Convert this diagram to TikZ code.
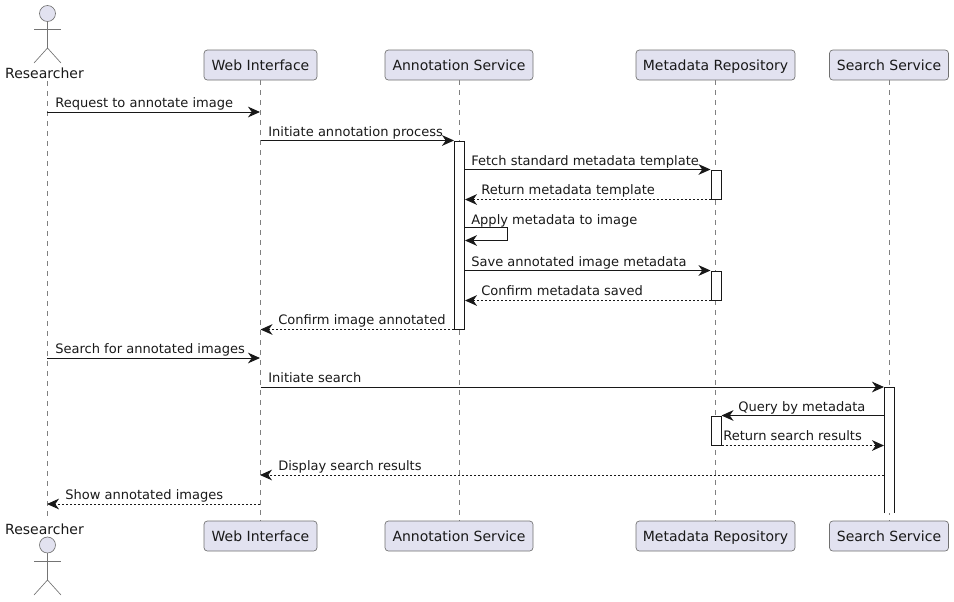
\documentclass[tikz,border=0pt]{standalone}
\usepackage{fontspec}
\setmainfont{DejaVu Sans}
\usepackage{tikz}
\usetikzlibrary{calc}
\usetikzlibrary{arrows.meta,backgrounds}
\definecolor{boxfill}{HTML}{E2E2F0}
\definecolor{inkline}{HTML}{181818}
\tikzset{
  party/.style={draw=inkline!62, line width=0.5pt, fill=boxfill, rounded corners=2.5pt, minimum height=22.5pt, inner xsep=0pt, text height=9pt, text depth=1.5pt, font=\fontsize{10.5}{12}\selectfont, text=black!90},
  actorname/.style={font=\fontsize{10.5}{12}\selectfont, text=black!90, inner sep=0pt},
  actorline/.style={draw=inkline!60, line width=0.5pt},
  lifeline/.style={draw=inkline!55, line width=0.5pt, dash pattern=on 3.75pt off 3.75pt},
  bar/.style={draw=inkline, line width=0.75pt, fill=white, minimum width=7.5pt, inner sep=0pt},
  msg/.style={draw=inkline, line width=0.75pt, -{Stealth[length=9pt,width=8pt,inset=2.8pt]}},
  reply/.style={msg, dash pattern=on 1.5pt off 1.5pt},
  lbl/.style={font=\fontsize{9.78}{12}\selectfont, text=black!90, inner sep=0pt, anchor=base west},
}

\begin{document}
\begin{tikzpicture}[x=0.75pt, y=-0.75pt]
\useasboundingbox (0, 0) rectangle (954, 601);

% PARTICIPANTS
\node[actorname] (resTop) at (44.5, 73) {Researcher};
\node[actorname] (resBot) at (44.5, 529) {Researcher};
\node[party, minimum width=84.75pt] (webTop) at (260.5, 65) {Web Interface};
\node[party, minimum width=84.75pt] (webBot) at (260.5, 536) {Web Interface};
\node[party, minimum width=111pt] (annTop) at (459, 65) {Annotation Service};
\node[party, minimum width=111pt] (annBot) at (459, 536) {Annotation Service};
\node[party, minimum width=119.25pt] (repTop) at (715.5, 65) {Metadata Repository};
\node[party, minimum width=119.25pt] (repBot) at (715.5, 536) {Metadata Repository};
\node[party, minimum width=89.25pt] (seaTop) at (889, 65) {Search Service};
\node[party, minimum width=89.25pt] (seaBot) at (889, 536) {Search Service};

% lifelines
\coordinate (resA) at (47, 81);
\coordinate (resB) at (47, 520);
\begin{pgfonlayer}{background}
\draw[lifeline] (resA) -- (resB);
\draw[lifeline] (webTop) -- (webBot);
\draw[lifeline] (annTop) -- (annBot);
\draw[lifeline] (repTop) -- (repBot);
\draw[lifeline] (seaTop) -- (seaBot);
\end{pgfonlayer}

% ACTOR TOP
\draw[actorline, fill=boxfill] (47.5, 13.5) circle (6pt);
\draw[actorline] (47.5, 21.5) -- (47.5, 48);
\draw[actorline] (34, 29) -- (61, 29);
\draw[actorline] (34, 63) -- (47.5, 48) -- (61, 63);

% ACTOR BOTTOM
\draw[actorline, fill=boxfill] (47.5, 545) circle (6pt);
\draw[actorline] (47.5, 553) -- (47.5, 580);
\draw[actorline] (34, 561) -- (61, 561);
\draw[actorline] (34, 595) -- (47.5, 580) -- (61, 595);

% ACTIVATION BARS
\node[bar, minimum height=141pt] (annBar) at (459.5, 235) {};
\node[bar, minimum height=21.75pt] (repBarA) at (716, 184.5) {};
\node[bar, minimum height=21.75pt] (repBarB) at (716, 285.5) {};
\node[bar, minimum height=21.75pt] (repBarC) at (716, 430.5) {};
% open at the bottom
\coordinate (seaBarNW) at (884, 387);
\coordinate (seaBarNE) at (894, 387);
\coordinate (seaBarSW) at (884, 513);
\coordinate (seaBarSE) at (894, 513);
\fill[white] (seaBarNW) rectangle (seaBarSE);
\draw[inkline, line width=0.75pt] (seaBarSW) -- (seaBarNW) -- (seaBarNE) -- (seaBarSE);

% MESSAGES
% request
\coordinate (resM1) at (47, 112);
\coordinate (webM1) at (260, 112);
\draw[msg] (resM1) -- (webM1);
\node[lbl] (lblM1) at (55, 107) {Request to annotate image};
% initiate annotation
\coordinate (webM2) at (webTop |- annBar.north west);
\draw[msg] (webM2) -- (annBar.north west);
\node[lbl] (lblM2) at (268, 136) {Initiate annotation process};
% fetch
\coordinate (annM3) at (annBar.north east |- repBarA.north west);
\draw[msg] (annM3) -- (repBarA.north west);
\node[lbl] (lblM3) at (471, 165.5) {Fetch standard metadata template};
% return template
\coordinate (annM4) at (annBar.north east |- repBarA.south west);
\draw[reply] (repBarA.south west) -- (annM4);
\node[lbl] (lblM4) at (481, 194.5) {Return metadata template};
% self message
\coordinate (annM5a) at ($(annBar.north east) + (0, 87)$);
\coordinate (annM5b) at ($(annM5a) + (42, 0)$);
\coordinate (annM5c) at ($(annM5b) + (0, 13)$);
\coordinate (annM5d) at ($(annM5a) + (0, 13)$);
\draw[msg] (annM5a) -- (annM5b) -- (annM5c) -- (annM5d);
\node[lbl] (lblM5) at (471, 224) {Apply metadata to image};
% save
\coordinate (annM6) at (annBar.north east |- repBarB.north west);
\draw[msg] (annM6) -- (repBarB.north west);
\node[lbl] (lblM6) at (471, 266) {Save annotated image metadata};
% confirm saved
\coordinate (annM7) at (annBar.north east |- repBarB.south west);
\draw[reply] (repBarB.south west) -- (annM7);
\node[lbl] (lblM7) at (481, 295) {Confirm metadata saved};
% confirm annotated
\coordinate (webM8) at (webTop |- annBar.south west);
\draw[reply] (annBar.south west) -- (webM8);
\node[lbl] (lblM8) at (278, 324) {Confirm image annotated};
% search
\coordinate (resM9) at (47, 358);
\coordinate (webM9) at (260, 358);
\draw[msg] (resM9) -- (webM9);
\node[lbl] (lblM9) at (55, 353) {Search for annotated images};
% initiate search
\coordinate (webM10) at (webTop |- seaBarNW);
\draw[msg] (webM10) -- (seaBarNW);
\node[lbl] (lblM10) at (268, 382.5) {Initiate search};
% query
\coordinate (seaM11) at (seaBarNW |- repBarC.north east);
\draw[msg] (seaM11) -- (repBarC.north east);
\node[lbl] (lblM11) at (738, 411.5) {Query by metadata};
% results
\coordinate (seaM12) at (seaBarNW |- repBarC.south east);
\draw[reply] (repBarC.south east) -- (seaM12);
\node[lbl] (lblM12) at (723, 440.5) {Return search results};
% display
\coordinate (seaM13) at (884, 475);
\coordinate (webM13) at (260, 475);
\draw[reply] (seaM13) -- (webM13);
\node[lbl] (lblM13) at (278, 470) {Display search results};
% show
\coordinate (webM14) at (260, 504);
\coordinate (resM14) at (47, 504);
\draw[reply] (webM14) -- (resM14);
\node[lbl] (lblM14) at (65, 499) {Show annotated images};

\end{tikzpicture}
\end{document}
